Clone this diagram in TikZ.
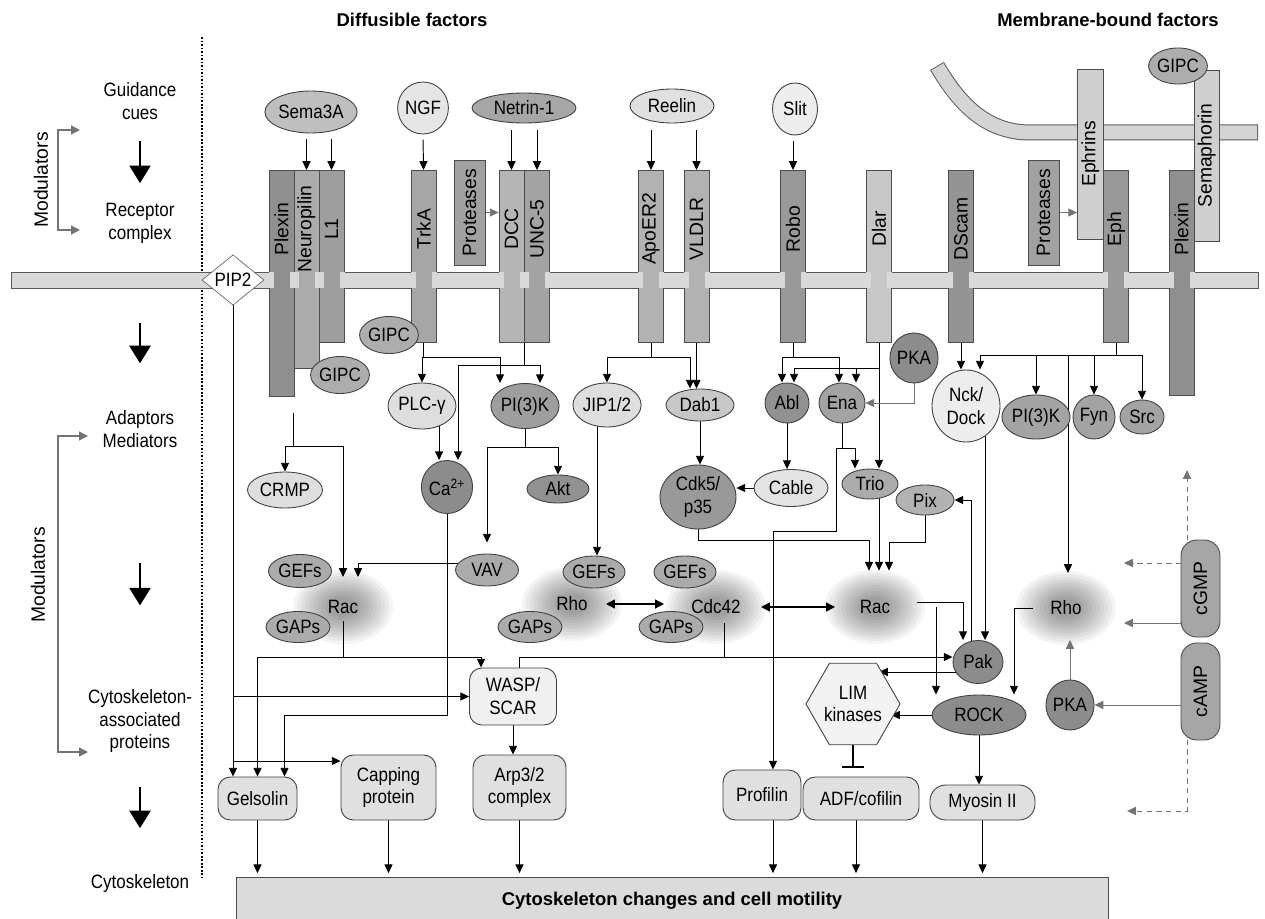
\documentclass[tikz,border=0pt]{standalone}
\usepackage{fontspec}
\setmainfont[FakeStretch=0.88]{Liberation Sans}
\newfontfamily\widefont{Liberation Sans}
\usetikzlibrary{positioning}
\usetikzlibrary{calc}
\usetikzlibrary{shapes.geometric}
\usetikzlibrary{arrows.meta}

\newlength\pxl
\setlength\pxl{0.02cm}

\pgfdeclarelayer{paper}
\pgfdeclarelayer{glow}
\pgfdeclarelayer{lines}
\pgfsetlayers{paper,glow,lines,main}

\tikzset{
  el/.style n args={3}{ellipse, draw=black!75, line width=0.5pt, fill=#3, minimum width=#1\pxl, minimum height=#2\pxl, inner sep=0pt, align=center},
  bar/.style n args={2}{draw=black!70, line width=0.5pt, fill=#2, anchor=north, minimum width=25\pxl, minimum height=#1\pxl, inner sep=0pt},
  vbox/.style n args={3}{draw=black!70, line width=0.5pt, fill=#3, minimum width=#1\pxl, minimum height=#2\pxl, inner sep=0pt, font=\widefont\fontsize{11}{13}\selectfont},
  box/.style n args={3}{draw=black!75, line width=0.5pt, fill=#3, rounded corners=7pt, minimum width=#1\pxl, minimum height=#2\pxl, inner sep=0pt, align=center},
  gtp/.style={ellipse, minimum width=96\pxl, minimum height=72\pxl, inner sep=0pt},
  halo/.style={fill=black, fill opacity=0.045},
  rl/.style={rotate=90, font=\widefont\fontsize{11}{13}\selectfont},
  sidelbl/.style={align=center},
  ttl/.style={font=\widefont\bfseries\fontsize{10.5}{12}\selectfont},
  arr/.style={line width=0.55pt, -{Triangle[length=5pt,width=4.6pt]}},
  garr/.style={arr, color=black!55},
  gdarr/.style={garr, dash pattern=on 3pt off 2.5pt},
  dbl/.style={line width=0.8pt, {Triangle[length=5pt,width=5pt]}-{Triangle[length=5pt,width=5pt]}},
  inh/.style={line width=0.7pt, -{Bar[width=12pt,line width=0.9pt]}},
  big/.style={line width=1.3pt, -{Triangle[length=10pt,width=12pt]}},
  brk/.style={line width=0.7pt, color=black!55, {Triangle[length=5pt,width=5pt]}-{Triangle[length=5pt,width=5pt]}}
}

\begin{document}
\begin{tikzpicture}[x=0.02cm, y=-0.02cm, font=\fontsize{11}{13}\selectfont]
\useasboundingbox (0,0) rectangle (1265,919);
\begin{pgfonlayer}{paper}
\fill[white] (0,0) rectangle (1265,919);
\end{pgfonlayer}

\node[ttl] (diff) at (412,20) {Diffusible factors};
\node[ttl] (mbf) at (1108,20) {Membrane-bound factors};

% left column
\node[sidelbl] (guid) at (140,101) {Guidance\\cues};
\node[sidelbl] (recep) at (140,223) {Receptor\\complex};
\node[sidelbl] (adapt) at (140,429) {Adaptors\\Mediators};
\node[sidelbl] (cskp) at (140,721) {Cytoskeleton-\\associated\\proteins};
\node[sidelbl] (cskl) at (140,883) {Cytoskeleton};
\node[rl] (modA) at (41,180) {Modulators};
\node[rl] (modB) at (38,575) {Modulators};
\coordinate (bA1) at (80,130);
\coordinate (bA2) at (80,230);
\coordinate (bB1) at (88,436);
\coordinate (bB2) at (88,752);
\draw[brk] (bA1) -| ($(bA2)+(-22,0)$) -- (bA2);
\draw[brk] (bB1) -| ($(bB2)+(-30,0)$) -- (bB2);
\draw[big, shorten <=23pt, shorten >=22.7pt] (guid.center) -- (recep.center);
\draw[big, shorten <=56.7pt, shorten >=37.4pt] (recep.center) -- (adapt.center);
\draw[big, shorten <=76pt, shorten >=65.8pt] (adapt.center) -- (cskp.center);
\draw[big, shorten <=37.4pt, shorten >=31.2pt] (cskp.center) -- (cskl.center);
\draw[densely dotted, line width=1pt] (202,37) -- (202,878);

% membranes
\draw[black!65, fill=black!15, line width=0.5pt] (11,272) rectangle (1258,288);
\draw[black!65, line width=16\pxl] (937,66) .. controls (958,102) and (985,132.5) .. (1030,132.5) -- (1258,132.5);
\draw[black!17, line width=14\pxl, shorten <=0.5pt, shorten >=0.5pt] (937,66) .. controls (958,102) and (985,132.5) .. (1030,132.5) -- (1258,132.5);

% receptors
\foreach \nm/\xx/\hgt/\fc/\lab in {plexL/281.5/226/black!44/Plexin, neur/306.5/198/black!33/Neuropilin, lone/331.5/172/black!38/L1, trka/423.5/172/black!35/TrkA, dcc/511.5/172/black!29/DCC, unc/537/172/black!36/UNC-5, apo/651/172/black!30/ApoER2, vldlr/696.5/172/black!30/VLDLR, robo/793/172/black!40/Robo, dlar/879/172/black!22/Dlar, dscam/961/172/black!42/DScam, eph/1116/172/black!40/Eph, plexR/1181.5/225/black!44/Plexin}
{
  \node[bar={\hgt}{\fc}] (\nm) at (\xx,170) {};
  \node[rl] (\nm-t) at (\xx,229) {\lab};
  \fill[black!15] (\xx-13,272.4) rectangle (\xx-8,287.6);
  \fill[black!15] (\xx+8,272.4) rectangle (\xx+13,287.6);
}
\node[vbox={31}{105}{black!37}] (protA) at (469.5,212.5) {\rotatebox{90}{Proteases}};
\node[vbox={31}{105}{black!37}] (protB) at (1043.5,212.5) {\rotatebox{90}{Proteases}};
\node[vbox={25.5}{170}{black!19}] (ephrin) at (1090.25,154) {\rotatebox{90}{Ephrins}};
\node[vbox={25}{171}{black!19}] (semaph) at (1206.5,155.5) {\rotatebox{90}{Semaphorin}};
\node[diamond, draw=black!60, fill=white, minimum width=62\pxl, minimum height=46\pxl, inner sep=0pt] (pip) at (233,280) {PIP2};

% ligands
\node[el={84}{42}{black!25}] (sema) at (311,112) {Sema3A};
\node[el={48}{52}{black!10}] (ngf) at (423,108) {NGF};
\node[el={104}{30}{black!35}] (netrin) at (524,108) {Netrin-1};
\node[el={84}{34}{black!12}] (reelin) at (672,106) {Reelin};
\node[el={45}{52}{black!7}] (slit) at (795,109) {Slit};
\node[el={55}{36}{black!32}] (gipcC) at (1178,66) {GIPC};

% adaptors
\node[el={58}{37}{black!32}] (gipcA) at (389,335) {GIPC};
\node[el={57}{37}{black!32}] (gipcB) at (340,375) {GIPC};
\node[el={68}{46}{black!13}] (plc) at (422,406) {PLC-γ};
\node[el={64}{45}{black!38}] (pi3kA) at (525,406) {PI(3)K};
\node[el={66}{44}{black!13}] (jip) at (607,405) {JIP1/2};
\node[el={68}{32}{black!22}] (dab) at (700,405) {Dab1};
\node[el={44}{40}{black!43}] (abl) at (787,403) {Abl};
\node[el={46}{40}{black!36}] (ena) at (842,403) {Ena};
\node[el={45}{50}{black!45}] (pkaA) at (914,358) {PKA};
\node[el={68}{72}{black!7}] (nck) at (966,406) {Nck/\\Dock};
\node[el={62}{44}{black!36}] (pi3kB) at (1036,417) {PI(3)K};
\node[el={42}{44}{black!36}] (fyn) at (1094,417) {Fyn};
\node[el={44}{34}{black!36}] (src) at (1142,417) {Src};
\node[el={75}{36}{black!13}] (crmp) at (285,490) {CRMP};
\node[el={48}{53}{black!45}] (ca) at (447,487) {Ca\textsuperscript{2+}};
\node[el={62}{28}{black!43}] (akt) at (558,489) {Akt};
\node[el={76}{64}{black!40}] (cdk) at (698,497) {Cdk5/\\p35};
\node[el={74}{37}{black!11}] (cable) at (791,488) {Cable};
\node[el={56}{30}{black!33}] (trio) at (870,484) {Trio};
\node[el={58}{30}{black!30}] (pix) at (925,500) {Pix};
\node[el={63}{32}{black!33}] (vav) at (487,570) {VAV};

% small GTPases, with a soft halo
\node[gtp] (racA) at (343,607) {Rac};
\node[gtp] (rhoA) at (572,604) {Rho};
\node[gtp] (cdc) at (716,607) {Cdc42};
\node[gtp] (racB) at (875,607) {Rac};
\node[gtp] (rhoB) at (1066,608) {Rho};
\begin{pgfonlayer}{glow}
\foreach \gn in {racA,rhoA,cdc,racB,rhoB}
  \foreach \sz in {50,46,42,38,34,30,26,22,18,14}
    \fill[halo] (\gn.center) ellipse ({\sz} and {0.74*\sz});
\end{pgfonlayer}
\node[el={63}{33}{black!33}] (gefA) at (300,571) {GEFs};
\node[el={64}{31}{black!33}] (gapA) at (298,627) {GAPs};
\node[el={62}{32}{black!33}] (gefB) at (594,572) {GEFs};
\node[el={64}{31}{black!33}] (gapB) at (530,627) {GAPs};
\node[el={62}{32}{black!33}] (gefC) at (685,572) {GEFs};
\node[el={64}{31}{black!33}] (gapC) at (671,627) {GAPs};
\node[el={50}{43}{black!45}] (pak) at (978,662) {Pak};
\node[el={94}{40}{black!45}] (rock) at (979,715) {ROCK};
\node[el={47}{50}{black!45}] (pkaB) at (1070,705) {PKA};
\node[regular polygon, regular polygon sides=6, draw=black!75, line width=0.5pt, fill=black!5, minimum size=88\pxl, inner sep=0pt, align=center] (lim) at (853,704) {LIM\\kinases};
\node[vbox={39}{97}{black!35}, rounded corners=9pt] (cgmp) at (1200.5,588.5) {\rotatebox{90}{cGMP}};
\node[vbox={39}{97}{black!35}, rounded corners=9pt] (camp) at (1200.5,691.5) {\rotatebox{90}{cAMP}};
\coordinate (gA) at (1124,563);
\coordinate (gB) at (1124,623);
\coordinate (gC) at (1187,470);
\coordinate (dA) at (1127,811);

% cytoskeleton-associated proteins
\node[box={87}{57}{black!6}] (wasp) at (513,696.5) {WASP/\\SCAR};
\node[box={79}{43}{black!12}] (gelsolin) at (257.5,798.5) {Gelsolin};
\node[box={95}{65}{black!12}] (capping) at (388.5,787.5) {Capping\\protein};
\node[box={93}{65}{black!12}] (arp) at (519.5,787.5) {Arp3/2\\complex};
\node[box={78}{50}{black!12}] (profilin) at (762,795) {Profilin};
\node[box={116}{43}{black!12}] (adf) at (861,798.5) {ADF/cofilin};
\node[box={105}{35}{black!12}, rounded corners=9pt] (myosin) at (982.5,802.5) {Myosin II};
\node[draw=black!70, fill=black!14, minimum width=872\pxl, minimum height=48\pxl, inner sep=0pt, font=\widefont\bfseries\fontsize{10.5}{12}\selectfont] (cyto) at (672,901) {Cytoskeleton changes and cell motility};

\begin{pgfonlayer}{lines}
% ligand to receptor
\draw[arr, shorten <=3pt] (sema.south -| neur.north) -- (neur.north);
\draw[arr, shorten <=3pt] (sema.south -| lone.north) -- (lone.north);
\draw[arr, shorten <=3pt] (ngf.south) -- (trka.north);
\draw[arr, shorten <=4pt] (netrin.south -| dcc.north) -- (dcc.north);
\draw[arr, shorten <=4pt] (netrin.south -| unc.north) -- (unc.north);
\draw[arr, shorten <=4pt] (reelin.south -| apo.north) -- (apo.north);
\draw[arr, shorten <=4pt] (reelin.south -| vldlr.north) -- (vldlr.north);
\draw[arr, shorten <=3pt] (slit.south -| robo.north) -- (robo.north);
\draw[garr] (protA.east) -- (protA.east -| dcc.west);
\draw[garr] (protB.east) -- (protB.east -| ephrin.west);

% Sema3A / NGF / Netrin-1
\coordinate (sPlex) at ($(plexL.south east)+(-1,16)$);
\draw (sPlex) -- ++(0,34) coordinate (jPlex);
\draw[arr] (jPlex) -| (crmp.north);
\draw[arr] (jPlex) -| (343,0 |- 0,577);
\draw (trka.south) -- ++(0,15) coordinate (jTrk);
\draw[arr] (jTrk) -| (plc.north);
\draw[arr] (jTrk) -| (500,0 |- pi3kA.north);
\draw (dcc.south east) -- ++(0,23) coordinate (jNet);
\draw[arr] (jNet) -| (540,0 |- pi3kA.north);
\draw[arr] (jNet) -| (458,0 |- ca.north);
\draw[arr] (plc.-50) -- (plc.-50 |- ca.north);
\draw (pi3kA.south) -- ++(0,19) coordinate (jPi);
\draw[arr] (jPi) -| (akt.north);
\draw[arr] (jPi) -| ($(vav.north)+(0,-11)$);
\draw[arr] (vav.center |- 0,563) -| (358,0 |- 0,577);
\draw[arr] (ca.center) |- ($(gelsolin.north)+(27,-61)$) -- ($(gelsolin.north)+(27,0)$);
\draw ($(racA.center)+(0,14)$) -- ++(0,36) coordinate (jRacA);
\draw[arr] (jRacA) -| ($(wasp.north)+(-32,0)$);
\draw[arr] (jRacA) -| (gelsolin.north);
\draw[arr] (pip.center) -- (pip.center |- gelsolin.north);
\draw[arr] (pip.center |- wasp.west) -- (wasp.west);
\draw[arr] (pip.center |- 0,761) -- (capping.west |- 0,761);
\draw[arr] (wasp.south) -- (wasp.south |- arp.north);

% Reelin / Slit
\draw (apo.south) -- ++(0,15) coordinate (jApo);
\draw[arr] (jApo) -| (jip.north);
\draw[arr] (jApo) -| (690,0 |- dab.north);
\draw[arr] (vldlr.south) -- (vldlr.south |- dab.north);
\draw[arr] (597,0 |- jip.center) -- (597,0 |- gefB.north);
\draw[arr] (dab.center) -- (dab.center |- cdk.north);
\draw (robo.south) -- ++(0,15) coordinate (jRobo);
\draw[arr] (jRobo) -| (782,0 |- abl.north);
\draw[arr] (jRobo) -| (839,0 |- ena.north);
\draw[arr] (dlar.south) -- (dlar.south |- trio.north);
\coordinate (jDlar) at (dlar.south |- 0,368);
\draw[arr] (jDlar) -| (794,0 |- abl.north);
\draw[arr] (856,0 |- jDlar) -- (856,0 |- ena.north);
\draw[garr] (pkaA.center) |- (ena.east);
\draw[arr] (abl.center) -- (abl.center |- cable.north);
\draw[arr] (cable.center) -- (cable.center -| cdk.east);
\draw (ena.center) -- ++(0,45) coordinate (jEna);
\draw[arr] (jEna) -| (855,0 |- trio.north);
\draw[arr] (jEna) -- ++(-6,0) -- ++(0,83) -| (773,0 |- profilin.north);
\draw[arr] (cdk.center) -- ++(0,43) -| (869,0 |- racB.north);
\draw[arr] (879,0 |- trio.center) -- (879,0 |- racB.north);
\draw[arr] (pix.center) -- ++(0,42) -| (889,0 |- racB.north);

% Cdc42 / Rac / Rho
\draw[dbl] ($(rhoA.center)+(34,0)$) -- ($(cdc.center)+(-52,-3)$);
\draw[dbl] ($(cdc.center)+(45,0)$) -- ($(racB.center)+(-40,0)$);
\draw ($(cdc.center)+(8,16)$) -- ($(cdc.center |- jRacA)+(8,0)$) coordinate (jCdc);
\draw (jCdc) -| ($(wasp.north)+(6,0)$);
\draw[arr] (jCdc) -- (jCdc -| pak.west);
\draw[arr] ($(racB.center)+(42,-5)$) -| (963,0 |- pak.north);
\draw[arr] (936,0 |- racB.center) -- (936,0 |- rock.north);
\draw[arr] (971,0 |- pak.center) |- (pix.east);
\draw[arr] (985,0 |- nck.center) -- (985,0 |- pak.north);
\draw[arr] ($(rhoB.center)+(-33,0)$) -| (1014,0 |- rock.north);
\draw[arr] (pak.center |- 0,672) -- ($(lim.center)+(26,-32)$);
\draw[arr] (rock.center) -- ($(lim.center)+(38,11)$);
\draw[inh] (lim.center) -- ($(lim.center |- adf.north)+(0,-9)$);
\draw[arr] (rock.center) -- (rock.center |- myosin.north);

% Ephrins / DScam
\draw[arr] (dscam.south) -- (dscam.south |- nck.north);
\draw (eph.south) -- ++(0,13) coordinate (jEph);
\draw[arr] (jEph) -| (980,0 |- nck.north);
\draw[arr] (jEph) -| (pi3kB.north);
\draw[arr] (jEph) -| (fyn.north);
\draw[arr] (jEph) -| (src.north);
\draw[arr] (jEph -| 1068,0) -- (1068,0 |- 0,573);

% cyclic nucleotides
\draw[garr] (pkaB.center) -- (pkaB.center |- 0,640);
\draw[garr] (camp.center |- pkaB.east) -- (pkaB.east);
\draw[gdarr] (1187,0 |- camp.center) |- (dA);
\draw[garr] (cgmp.center |- gB) -- (gB);
\draw[gdarr] (cgmp.center |- gA) -- (gA);
\draw[gdarr] (gC |- cgmp.center) -- (gC);

% to cytoskeleton
\draw[arr, shorten >=2pt] (gelsolin.center) -- (gelsolin.center |- cyto.north);
\draw[arr, shorten >=2pt] (capping.center) -- (capping.center |- cyto.north);
\draw[arr, shorten >=2pt] (arp.center) -- (arp.center |- cyto.north);
\draw[arr, shorten >=2pt] (773,0 |- profilin.center) -- (773,0 |- cyto.north);
\draw[arr, shorten >=2pt] (856,0 |- adf.center) -- (856,0 |- cyto.north);
\draw[arr, shorten >=2pt] (myosin.center) -- (myosin.center |- cyto.north);
\end{pgfonlayer}
\end{tikzpicture}
\end{document}
